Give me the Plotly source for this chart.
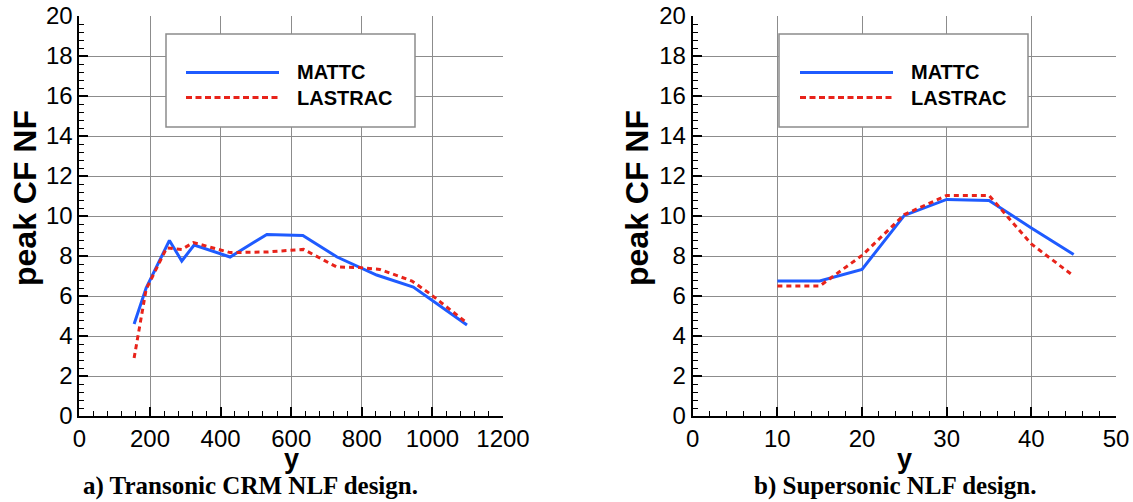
import plotly.graph_objects as go

# ---- data ----
trans_y_mattc = [155, 189, 255, 290, 325, 427, 531, 633, 730, 842, 946, 1098]
trans_cf_mattc = [4.6, 6.4, 8.78, 7.75, 8.55, 7.95, 9.08, 9.03, 7.95, 7.05, 6.45, 4.55]
trans_y_lastrac = [155, 189, 247, 290, 323, 427, 531, 635, 729, 795, 851, 942, 994, 1098]
trans_cf_lastrac = [2.9, 6.33, 8.4, 8.33, 8.67, 8.17, 8.2, 8.33, 7.45, 7.42, 7.33, 6.75, 6.1, 4.65]

super_y = [10, 15, 20, 25, 30, 35, 40, 45]
super_cf_mattc = [6.75, 6.75, 7.33, 10.03, 10.83, 10.78, 9.4, 8.08]
super_cf_lastrac = [6.5, 6.5, 8.03, 10.07, 11.03, 11.03, 8.6, 7.0]

series_names = ["MATTC", "LASTRAC"]
captions = ["a) Transonic CRM NLF design.", "b) Supersonic NLF design."]
y_title = "peak CF NF"
x_title = "y"

W, H = 1133, 502
BLUE = "#1f5bff"
RED = "#e8231a"


def px(x):
    return x / W


def py(y):
    return 1 - y / H


fig = go.Figure()
fig.add_trace(go.Scatter(x=trans_y_mattc, y=trans_cf_mattc, mode="lines",
                         line=dict(color=BLUE, width=3), xaxis="x", yaxis="y",
                         name=series_names[0], showlegend=False))
fig.add_trace(go.Scatter(x=trans_y_lastrac, y=trans_cf_lastrac, mode="lines",
                         line=dict(color=RED, width=3, dash="5px,4px"), xaxis="x", yaxis="y",
                         name=series_names[1], showlegend=False))
fig.add_trace(go.Scatter(x=super_y, y=super_cf_mattc, mode="lines",
                         line=dict(color=BLUE, width=3), xaxis="x2", yaxis="y2",
                         name=series_names[0], showlegend=False))
fig.add_trace(go.Scatter(x=super_y, y=super_cf_lastrac, mode="lines",
                         line=dict(color=RED, width=3, dash="5px,4px"), xaxis="x2", yaxis="y2",
                         name=series_names[1], showlegend=False))

tickfont = dict(family="Liberation Sans, Arial", size=24, color="black")
common = dict(showline=True, linecolor="black", linewidth=2, mirror=False,
              ticks="inside", ticklen=9, tickwidth=2, tickcolor="black",
              showgrid=True, gridcolor="#8c8c8c", gridwidth=1, zeroline=False,
              tickfont=tickfont, automargin=False)

ydom = [py(416), py(16)]
fig.update_layout(
    width=W, height=H, margin=dict(l=0, r=0, t=0, b=0, autoexpand=False),
    paper_bgcolor="white", plot_bgcolor="white", showlegend=False,
    xaxis=dict(domain=[px(79.4), px(503)], range=[0, 1200], dtick=200,
               minor=dict(dtick=40, ticks="inside", ticklen=5, tickwidth=1, tickcolor="black", showgrid=False),
               anchor="y", **common),
    yaxis=dict(domain=ydom, range=[0, 20], dtick=2,
               minor=dict(dtick=0.4, ticks="inside", ticklen=5, tickwidth=1, tickcolor="black", showgrid=False),
               anchor="x", **common),
    xaxis2=dict(domain=[px(692.7), px(1116)], range=[0, 50], dtick=10,
                minor=dict(dtick=2, ticks="inside", ticklen=5, tickwidth=1, tickcolor="black", showgrid=False),
                anchor="y2", **common),
    yaxis2=dict(domain=ydom, range=[0, 20], dtick=2,
                minor=dict(dtick=0.4, ticks="inside", ticklen=5, tickwidth=1, tickcolor="black", showgrid=False),
                anchor="x2", **common),
)

shapes = []
annotations = []
title_font = dict(family="Liberation Sans, Arial", size=32, color="black")
cap_font = dict(family="Liberation Serif, Times New Roman", size=25, color="black")
leg_font = dict(family="Liberation Sans, Arial", size=20, color="black")

# legends, titles and captions for both panels
for (bx0, bx1, lx0, lx1, tx, ytx, xtx) in [
    (166, 415, 186, 279, 295, 25, 291),
    (779, 1028, 800, 893, 909, 637, 904),
]:
    shapes.append(dict(type="rect", xref="paper", yref="paper",
                       x0=px(bx0), x1=px(bx1), y0=py(127), y1=py(34),
                       fillcolor="white", line=dict(color="#8c8c8c", width=1.5), layer="above"))
    shapes.append(dict(type="line", xref="paper", yref="paper",
                       x0=px(lx0), x1=px(lx1), y0=py(72.5), y1=py(72.5),
                       line=dict(color=BLUE, width=3), layer="above"))
    shapes.append(dict(type="line", xref="paper", yref="paper",
                       x0=px(lx0), x1=px(lx1), y0=py(97.5), y1=py(97.5),
                       line=dict(color=RED, width=3, dash="6px,3.5px"), layer="above"))
    annotations.append(dict(text="<b>%s</b>" % series_names[0], xref="paper", yref="paper",
                            x=px(tx), y=py(72.5), xanchor="left", yanchor="middle",
                            showarrow=False, font=leg_font))
    annotations.append(dict(text="<b>%s</b>" % series_names[1], xref="paper", yref="paper",
                            x=px(tx), y=py(97.5), xanchor="left", yanchor="middle",
                            showarrow=False, font=leg_font))
    annotations.append(dict(text="<b>%s</b>" % y_title, xref="paper", yref="paper",
                            x=px(ytx), y=py(198), xanchor="center", yanchor="middle",
                            textangle=-90, showarrow=False, font=title_font))
    annotations.append(dict(text="<b>%s</b>" % x_title, xref="paper", yref="paper",
                            x=px(xtx), y=py(459), xanchor="center", yanchor="middle",
                            showarrow=False, font=dict(family="Liberation Sans, Arial", size=27, color="black")))

annotations.append(dict(text="<b>%s</b>" % captions[0], xref="paper", yref="paper",
                        x=px(250), y=py(486), xanchor="center", yanchor="middle",
                        showarrow=False, font=cap_font))
annotations.append(dict(text="<b>%s</b>" % captions[1], xref="paper", yref="paper",
                        x=px(895), y=py(486), xanchor="center", yanchor="middle",
                        showarrow=False, font=cap_font))

fig.update_layout(shapes=shapes, annotations=annotations)
fig.write_html("out.html")
